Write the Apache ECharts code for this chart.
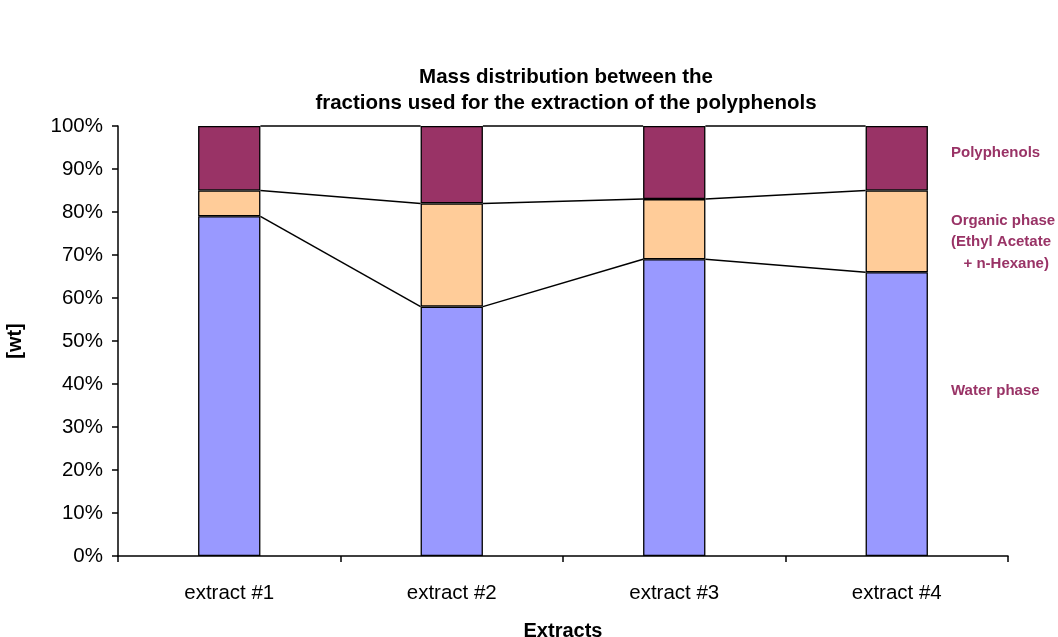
<!DOCTYPE html>
<html>
<head>
<meta charset="utf-8">
<script src="https://cdn.jsdelivr.net/npm/echarts@6/dist/echarts.min.js"></script>
<style>
  html, body { margin: 0; padding: 0; background: #fff; }
  #chart { width: 1058px; height: 637px; }
</style>
</head>
<body>
<div id="chart"></div>
<script>
const categories = ['extract #1', 'extract #2', 'extract #3', 'extract #4'];
const waterPhase = [79, 58, 69, 66];
const organicPhase = [6, 24, 14, 19];
const polyphenols = [15, 18, 17, 15];
const yTicks = [0, 10, 20, 30, 40, 50, 60, 70, 80, 90, 100];

const BAR_RATIO = 0.28;
const font = 'Arial, "Liberation Sans", sans-serif';

// cumulative tops of each stack level, used for the series lines between bars
const levels = [waterPhase, organicPhase, polyphenols];
const lineData = [];
levels.forEach((_, level) => {
  const tops = categories.map((c, i) => {
    let s = 0;
    for (let k = 0; k <= level; k++) s += levels[k][i];
    return s;
  });
  for (let i = 0; i < categories.length - 1; i++) {
    lineData.push([i, tops[i], i + 1, tops[i + 1]]);
  }
});

const barStyle = (color) => ({
  color: color,
  borderColor: '#000',
  borderWidth: 1.3
});

const chart = echarts.init(document.getElementById('chart'));
chart.setOption({
  animation: false,
  backgroundColor: '#fff',
  title: {
    text: 'Mass distribution between the\nfractions used for the extraction of the polyphenols',
    left: 561,
    top: 59,
    textAlign: 'center',
    textStyle: { fontFamily: font, fontSize: 20.5, fontWeight: 'bold', color: '#000', lineHeight: 26 }
  },
  grid: { left: 118, right: 50, top: 126, bottom: 81, outerBoundsMode: 'none' },
  xAxis: {
    type: 'category',
    data: categories,
    name: 'Extracts',
    nameLocation: 'middle',
    nameGap: 65,
    nameTextStyle: { fontFamily: font, fontSize: 20, fontWeight: 'bold', color: '#000' },
    axisLine: { lineStyle: { color: '#000', width: 1.5 } },
    axisTick: { show: true, alignWithLabel: false, length: 6, lineStyle: { color: '#000', width: 1.5 } },
    axisLabel: { fontFamily: font, fontSize: 20.5, color: '#000', margin: 27 },
    splitLine: { show: false }
  },
  yAxis: {
    type: 'value',
    min: 0,
    max: 100,
    interval: 10,
    name: '[wt]',
    nameLocation: 'middle',
    nameGap: 93,
    nameRotate: 90,
    nameTextStyle: { fontFamily: font, fontSize: 20, fontWeight: 'bold', color: '#000' },
    axisLine: { show: true, lineStyle: { color: '#000', width: 1.5 } },
    axisTick: { show: true, length: 6, lineStyle: { color: '#000', width: 1.5 } },
    axisLabel: {
      fontFamily: font, fontSize: 20.5, color: '#000', margin: 15,
      formatter: (v) => yTicks.includes(v) ? v + '%' : ''
    },
    splitLine: { show: false }
  },
  series: [
    { name: 'Water phase', type: 'bar', stack: 'all', barWidth: (BAR_RATIO * 100) + '%', data: waterPhase, itemStyle: barStyle('#9999FF') },
    { name: 'Organic phase', type: 'bar', stack: 'all', data: organicPhase, itemStyle: barStyle('#FFCC99') },
    { name: 'Polyphenols', type: 'bar', stack: 'all', data: polyphenols, itemStyle: barStyle('#993366') },
    {
      type: 'custom',
      data: lineData,
      z: 5,
      renderItem: function (params, api) {
        const p1 = api.coord([api.value(0), api.value(1)]);
        const p2 = api.coord([api.value(2), api.value(3)]);
        const half = api.size([1, 0])[0] * BAR_RATIO / 2;
        return {
          type: 'line',
          shape: { x1: p1[0] + half, y1: p1[1], x2: p2[0] - half, y2: p2[1] },
          style: { stroke: '#000', lineWidth: 1.5 }
        };
      }
    }
  ],
  graphic: [
    { type: 'text', left: 951, top: 145, style: { text: 'Polyphenols', font: 'bold 15px ' + font, fill: '#993366' } },
    { type: 'text', left: 951, top: 210, style: { text: 'Organic phase\n(Ethyl Acetate\n   + n-Hexane)', font: 'bold 15px ' + font, fill: '#993366', lineHeight: 21.5 } },
    { type: 'text', left: 951, top: 383, style: { text: 'Water phase', font: 'bold 15px ' + font, fill: '#993366' } }
  ]
});
</script>
</body>
</html>
